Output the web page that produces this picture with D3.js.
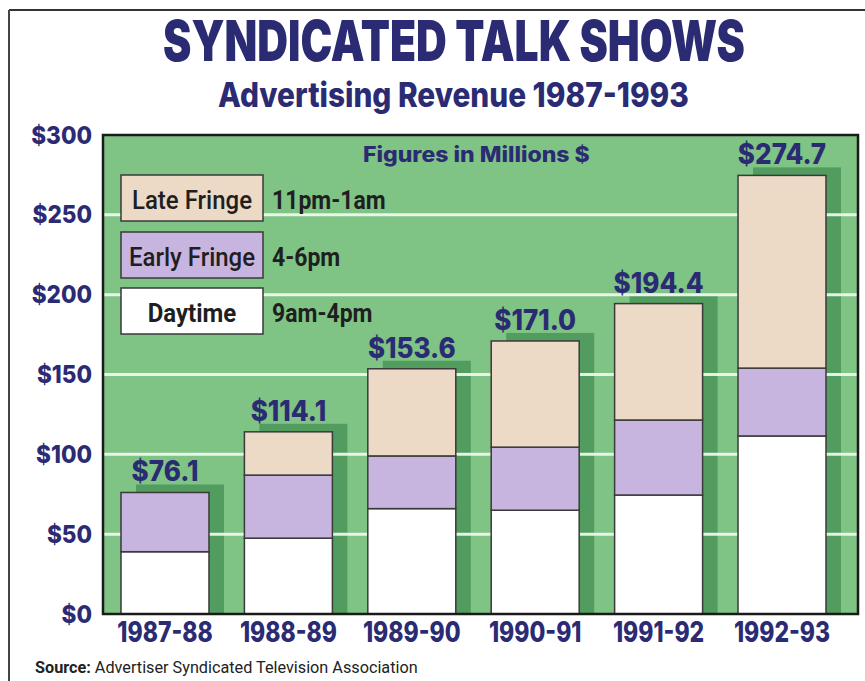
<!DOCTYPE html>
<html>
<head>
<meta charset="utf-8">
<script src="https://cdn.jsdelivr.net/npm/d3@7"></script>
<style>
  html, body { margin: 0; padding: 0; background: #ffffff; }
  svg { display: block; }
  text { font-family: Roboto, "Liberation Sans", Arial, sans-serif; }
  .heavy { font-family: Inter, Roboto, "Liberation Sans", Arial, sans-serif; }
</style>
</head>
<body>
<svg id="chart" width="865" height="681"></svg>
<script>
// Syndicated talk show ad revenue by season, millions of dollars
const seasons = ["1987-88", "1988-89", "1989-90", "1990-91", "1991-92", "1992-93"];
const daytime = [39.0, 47.5, 66.0, 65.0, 74.5, 111.5];
const earlyFringe = [37.1, 39.5, 33.0, 39.5, 47.0, 42.5];
const lateFringe = [0.0, 27.1, 54.6, 66.5, 72.9, 120.7];
const totals = [76.1, 114.1, 153.6, 171.0, 194.4, 274.7];
const yTicks = [0, 50, 100, 150, 200, 250, 300];

const layers = ["daytime", "early", "late"];
const legendItems = [
  { key: "late", name: "Late Fringe", hours: "11pm-1am" },
  { key: "early", name: "Early Fringe", hours: "4-6pm" },
  { key: "daytime", name: "Daytime", hours: "9am-4pm" }
];

const fills = { daytime: "#ffffff", early: "#c7b4df", late: "#ecd9c6" };
const navy = "#2b2b74";
const plotGreen = "#7fc385";
const shadowGreen = "#529c5f";

const rows = seasons.map((s, i) => ({
  season: s, daytime: daytime[i], early: earlyFringe[i], late: lateFringe[i], total: totals[i]
}));

const svg = d3.select("#chart");

// squeeze a left-anchored text horizontally so it spans the given width
function fitWidth(sel, x0, baseline, width) {
  const natural = sel.node().getComputedTextLength();
  const sx = width / natural;
  sel.attr("x", 0).attr("y", 0)
    .attr("transform", `translate(${x0},${baseline}) scale(${sx},1)`);
  return sel;
}

// outer frame lines
svg.append("line").attr("x1", 9).attr("x2", 865).attr("y1", 10).attr("y2", 10)
  .attr("stroke", "#333").attr("stroke-width", 2);
svg.append("line").attr("x1", 9).attr("x2", 9).attr("y1", 10).attr("y2", 681)
  .attr("stroke", "#444").attr("stroke-width", 2);

const plot = { left: 103, right: 858, top: 135, bottom: 614 };

const x = d3.scaleBand()
  .domain(seasons)
  .range([plot.left, plot.right])
  .paddingInner(0.287)
  .paddingOuter(0.2026)
  .align(0.36);

const y = d3.scaleLinear()
  .domain([0, 300])
  .range([plot.bottom, plot.top]);

// titles
fitWidth(svg.append("text").attr("class", "heavy")
  .attr("font-size", 56).attr("font-weight", 900).attr("fill", navy)
  .text("SYNDICATED TALK SHOWS"), 163, 61, 582);
fitWidth(svg.append("text").attr("class", "heavy")
  .attr("font-size", 34).attr("font-weight", 800).attr("fill", navy)
  .text("Advertising Revenue 1987-1993"), 218, 107, 471);

// plot background
svg.append("rect")
  .attr("x", plot.left).attr("y", plot.top)
  .attr("width", plot.right - plot.left).attr("height", plot.bottom - plot.top)
  .attr("fill", plotGreen);

const stacked = d3.stack().keys(layers)(rows);

// drop shadows behind each column
svg.append("g").selectAll("rect")
  .data(rows)
  .join("rect")
  .attr("x", d => x(d.season) + 15)
  .attr("y", d => y(d.total) - 8)
  .attr("width", x.bandwidth())
  .attr("height", d => plot.bottom - (y(d.total) - 8))
  .attr("fill", shadowGreen);

// horizontal gridlines
svg.append("g").selectAll("line")
  .data(yTicks.filter(t => t > 0 && t < 300))
  .join("line")
  .attr("x1", plot.left).attr("x2", plot.right)
  .attr("y1", d => y(d)).attr("y2", d => y(d))
  .attr("stroke", "#f4fbf2").attr("stroke-opacity", 0.9).attr("stroke-width", 3);

// stacked columns
svg.append("g").selectAll("g")
  .data(stacked)
  .join("g")
  .attr("fill", d => fills[d.key])
  .selectAll("rect")
  .data(d => d.filter(p => p[1] - p[0] > 0))
  .join("rect")
  .attr("x", d => x(d.data.season))
  .attr("y", d => y(d[1]))
  .attr("width", x.bandwidth())
  .attr("height", d => y(d[0]) - y(d[1]))
  .attr("stroke", "#3a3a3a").attr("stroke-width", 1.5);

// column totals
svg.append("g").selectAll("text")
  .data(rows)
  .join("text").attr("class", "heavy")
  .attr("transform", d => `translate(${x(d.season) + x.bandwidth() / 2},${y(d.total) - 11}) scale(0.93,1)`)
  .attr("text-anchor", "middle")
  .attr("font-size", 28).attr("font-weight", 800).attr("fill", navy)
  .text(d => "$" + d3.format(".1f")(d.total));

// units note
fitWidth(svg.append("text").attr("class", "heavy")
  .attr("font-size", 21).attr("font-weight", 800).attr("fill", navy)
  .text("Figures in Millions $"), 363, 162, 227);

// legend
const legendTop = [175, 232, 288];
const legend = svg.append("g").selectAll("g")
  .data(legendItems)
  .join("g")
  .attr("transform", (d, i) => `translate(121,${legendTop[i]})`);
legend.append("rect")
  .attr("width", 142).attr("height", 46)
  .attr("fill", d => fills[d.key])
  .attr("stroke", "#3a3a3a").attr("stroke-width", 1.5);
legend.append("text")
  .attr("x", 71).attr("y", 34)
  .attr("text-anchor", "middle")
  .attr("font-size", 25).attr("font-weight", d => d.key === "daytime" ? 700 : 500)
  .attr("fill", "#1f1f1f")
  .attr("transform", "translate(71,0) scale(0.96,1) translate(-71,0)")
  .text(d => d.name);
legend.append("text")
  .attr("x", 151).attr("y", 34)
  .attr("font-size", 25).attr("font-weight", 700)
  .attr("fill", "#1f1f1f")
  .attr("transform", "translate(151,0) scale(0.92,1) translate(-151,0)")
  .text(d => d.hours);

// plot frame
svg.append("rect")
  .attr("x", plot.left).attr("y", plot.top)
  .attr("width", plot.right - plot.left).attr("height", plot.bottom - plot.top)
  .attr("fill", "none").attr("stroke", "#1a1a1a").attr("stroke-width", 2.5);

// y axis labels
const yAxis = svg.append("g")
  .attr("transform", `translate(${plot.left},0)`)
  .call(d3.axisLeft(y).tickValues(yTicks).tickFormat(d => "$" + d).tickSize(0).tickPadding(0));
yAxis.select(".domain").remove();
yAxis.selectAll("text")
  .attr("class", "heavy")
  .attr("font-family", null)
  .attr("x", -11 / 0.9)
  .attr("transform", "scale(0.9,1)")
  .attr("font-size", 25).attr("font-weight", 800).attr("fill", navy);

// x axis labels
const xAxis = svg.append("g")
  .attr("transform", `translate(0,${plot.bottom})`)
  .call(d3.axisBottom(x).tickSize(0).tickPadding(8));
xAxis.select(".domain").remove();
xAxis.selectAll("text")
  .attr("class", "heavy")
  .attr("font-family", null)
  .attr("font-size", 28).attr("font-weight", 800).attr("fill", navy)
  .attr("transform", "scale(0.82,1)")
  .attr("dy", "0.71em");

// source line
const src = svg.append("text")
  .attr("font-size", 17).attr("fill", "#222");
src.append("tspan").attr("font-weight", 700).text("Source:");
src.append("tspan").text(" Advertiser Syndicated Television Association");
fitWidth(src, 35, 673, 383);
</script>
</body>
</html>
